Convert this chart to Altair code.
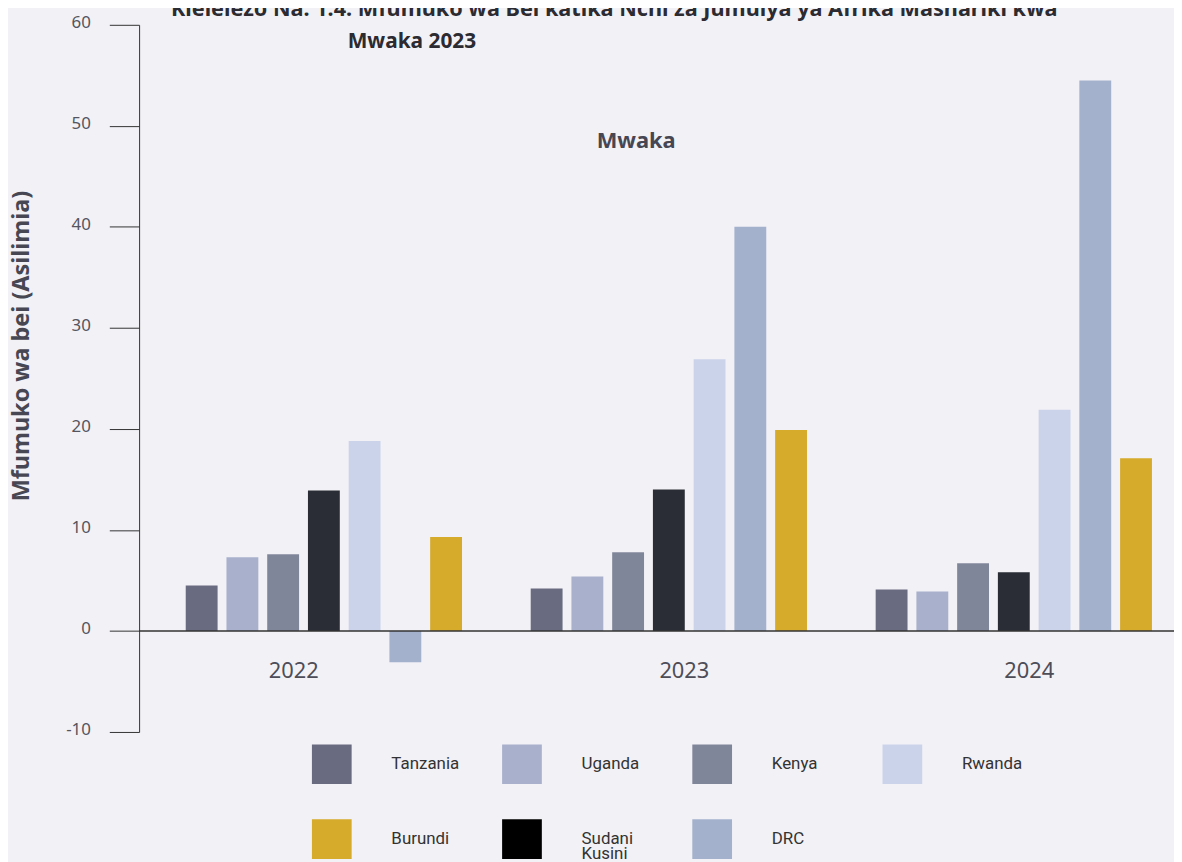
import altair as alt
import pandas as pd

# ---------------- data ----------------
years = ["2022", "2023", "2024"]
bar_order = ["Tanzania", "Uganda", "Kenya", "Sudani Kusini", "Rwanda", "DRC", "Burundi"]
legend_order = ["Tanzania", "Uganda", "Kenya", "Rwanda", "Burundi", "Sudani Kusini", "DRC"]
legend_colors = ["#696b80", "#a8b0cc", "#80869a", "#cbd3ea", "#d6aa2b", "#000000", "#a3b1cc"]

tanzania = [4.5, 4.2, 4.1]
uganda = [7.3, 5.4, 3.9]
kenya = [7.6, 7.8, 6.7]
sudani_kusini = [13.9, 14.0, 5.8]
rwanda = [18.8, 26.9, 21.9]
drc = [-3.1, 40.0, 54.5]
burundi = [9.3, 19.9, 17.1]

y_ticks = [-10, 0, 10, 20, 30, 40, 50, 60]
zero_line = [0]
title_lines = [
    "Kielelezo Na. 1.4: Mfumuko wa Bei katika Nchi za Jumuiya ya Afrika Mashariki kwa",
    "Mwaka 2023",
]
x_title = "Mwaka"
y_title = "Mfumuko wa bei (Asilimia)"

series = {
    "Tanzania": tanzania,
    "Uganda": uganda,
    "Kenya": kenya,
    "Sudani Kusini": sudani_kusini,
    "Rwanda": rwanda,
    "DRC": drc,
    "Burundi": burundi,
}
rows = []
for i, yr in enumerate(years):
    for name in bar_order:
        rows.append({"Mwaka": yr, "Nchi": name, "Thamani": series[name][i]})
df = pd.DataFrame(rows)

BG = "#f2f1f6"
AXIS_FONT = "Noto Sans"
TITLE_FONT = "Noto Sans"
LEGEND_FONT = "Roboto"

bars = alt.Chart(df).mark_bar().encode(
    x=alt.X(
        "Mwaka:N",
        sort=years,
        scale=alt.Scale(paddingInner=0, paddingOuter=0),
        axis=alt.Axis(
            orient="bottom",
            offset=-102,
            domain=False,
            ticks=False,
            tickSize=0,
            labelAngle=0,
            labelFont=AXIS_FONT,
            labelFontSize=22,
            labelColor="#4d4d58",
            labelBaseline="alphabetic",
            labelPadding=47,
            labelOffset={"condition": {"test": "datum.value === '2022'", "value": -18}, "value": 28},
            title=x_title,
            titleFont=TITLE_FONT,
            titleFontSize=22,
            titleFontWeight="bold",
            titleColor="#474753",
            titleX=500,
            titleY=-486,
            titleAlign="center",
            titleBaseline="alphabetic",
        ),
    ),
    xOffset=alt.XOffset(
        "Nchi:N",
        sort=bar_order,
        scale=alt.Scale(paddingInner=0.218, paddingOuter=0.843, align=0.679),
    ),
    y=alt.Y(
        "Thamani:Q",
        scale=alt.Scale(domain=[-10, 60], nice=False, zero=False),
        axis=alt.Axis(
            values=y_ticks,
            grid=False,
            domainColor="#333333",
            tickColor="#333333",
            tickSize=30,
            labelFont=AXIS_FONT,
            labelFontSize=17,
            labelColor="#55555f",
            labelPadding=19,
            labelBaseline="alphabetic",
            labelOffset=3,
            labelExpr="'' + datum.value",
            title=y_title,
            titleFont=TITLE_FONT,
            titleFontSize=23.6,
            titleFontWeight="bold",
            titleColor="#474753",
            titleAngle=270,
            titleX=-111,
            titleY=323,
            titleAlign="center",
            titleBaseline="alphabetic",
        ),
    ),
    color=alt.condition(
        alt.datum.Nchi == "Sudani Kusini",
        alt.value("#2a2d35"),
        alt.Color(
            "Nchi:N",
            scale=alt.Scale(domain=legend_order, range=legend_colors),
            legend=alt.Legend(
                title=None,
                orient="none",
                direction="horizontal",
                legendX=174,
                legendY=723,
                columns=4,
                gridAlign="all",
                symbolType="square",
                symbolSize=1600,
                symbolStrokeWidth=0,
                symbolOpacity=1,
                labelFont=LEGEND_FONT,
                labelFontSize=17,
                labelColor="#333333",
                labelOffset=40,
                columnPadding=42.5,
                rowPadding=34,
                padding=0,
                labelExpr="datum.label === 'Sudani Kusini' ? ['Sudani', 'Kusini'] : datum.label",
            ),
        ),
    ),
)

zero_rule = alt.Chart(pd.DataFrame({"v": zero_line})).mark_rule(
    color="#333333", strokeWidth=1.5
).encode(y="v:Q")

title1 = alt.Chart(pd.DataFrame({"t": [title_lines[0]]})).mark_text(
    align="left", baseline="alphabetic", font=TITLE_FONT, fontSize=21.8,
    fontWeight="bold", color="#2b2b31"
).encode(text="t:N", x=alt.value(32), y=alt.value(-9))

title2 = alt.Chart(pd.DataFrame({"t": [title_lines[1]]})).mark_text(
    align="left", baseline="alphabetic", font=TITLE_FONT, fontSize=21,
    fontWeight="bold", color="#2b2b31"
).encode(text="t:N", x=alt.value(210), y=alt.value(23))

chart = alt.layer(bars, zero_rule, title1, title2).properties(
    width=1042,
    height=712,
    padding={"left": 132, "top": 14, "right": 0, "bottom": 128},
    autosize=alt.AutoSizeParams(type="none"),
    background=BG,
).configure(
    style={"guide-label": {"lineHeight": 15}}
).configure_view(stroke=None)

chart.save("out.html", embed_options={"renderer": "svg", "actions": False})
